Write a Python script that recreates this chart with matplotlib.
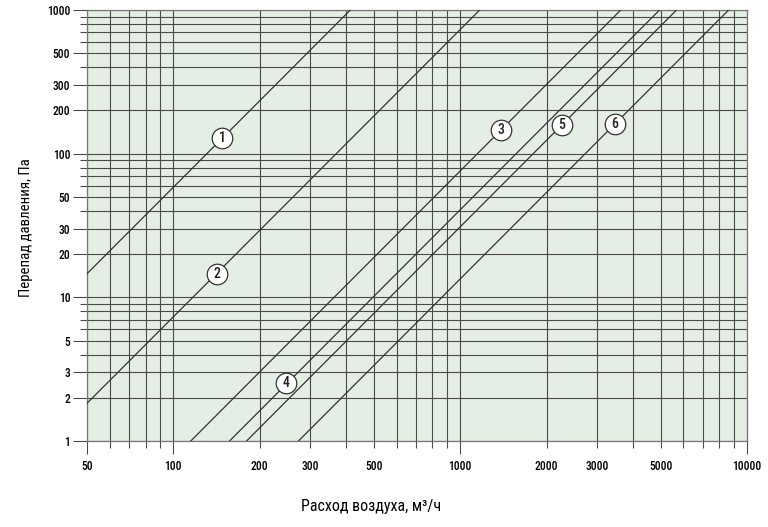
import matplotlib
matplotlib.use("Agg")
import matplotlib.pyplot as plt
from matplotlib.ticker import FixedLocator, FixedFormatter, NullFormatter

plt.rcParams['font.family'] = ['Roboto Condensed', 'DejaVu Sans']
plt.rcParams['font.weight'] = 'medium'

line1_q = [50, 414];   line1_dp = [14.6, 1000]
line2_q = [50, 1170];  line2_dp = [1.83, 1000]
line3_q = [115, 3630]; line3_dp = [1, 1000]
line4_q = [157, 4955]; line4_dp = [1, 1000]
line5_q = [180, 5680]; line5_dp = [1, 1000]
line6_q = [273, 8630]; line6_dp = [1, 1000]

curve_names = ["1", "2", "3", "4", "5", "6"]
label_q = [148, 142, 1384, 248, 2260, 3460]
label_dp = [128, 14.5, 146, 2.53, 158, 161]

x_labeled = [50, 100, 200, 300, 500, 1000, 2000, 3000, 5000, 10000]
x_long = [50, 100, 1000, 10000]
x_grid = [50, 60, 70, 80, 90, 100, 200, 300, 400, 500, 600, 700, 800, 900,
          1000, 2000, 3000, 4000, 5000, 6000, 7000, 8000, 9000, 10000]
y_labeled = [1, 2, 3, 5, 10, 20, 30, 50, 100, 200, 300, 500, 1000]
y_grid = [1, 2, 3, 4, 5, 6, 7, 8, 9, 10, 20, 30, 40, 50, 60, 70, 80, 90,
          100, 200, 300, 400, 500, 600, 700, 800, 900, 1000]

xlabel = "Расход воздуха, м³/ч"
ylabel = "Перепад давления, Па"

grid_c = "#4a4a4a"
line_c = "#333333"
bg = "#e5eee4"

fig = plt.figure(figsize=(7.68, 5.27), dpi=100)
ax = fig.add_axes([87/768, 1-441/527, (747-87)/768, (441-10)/527])
ax.set_facecolor(bg)
ax.set_xscale('log')
ax.set_yscale('log')
ax.set_xlim(50, 10000)
ax.set_ylim(1, 1000)

x_minor = [v for v in x_grid if v not in x_long]
ax.xaxis.set_major_locator(FixedLocator(x_long))
ax.xaxis.set_major_formatter(FixedFormatter([str(v) for v in x_long]))
ax.xaxis.set_minor_locator(FixedLocator(x_minor))
ax.xaxis.set_minor_formatter(FixedFormatter([str(v) if v in x_labeled else "" for v in x_minor]))
ax.tick_params(axis='x', which='major', length=9.5, width=0.8, color=grid_c, pad=4, labelsize=8.3)
ax.tick_params(axis='x', which='minor', length=5, width=0.8, color=grid_c, pad=8.5, labelsize=8.3)

y_minor = [v for v in y_grid if v not in y_labeled]
ax.yaxis.set_major_locator(FixedLocator(y_labeled))
ax.yaxis.set_major_formatter(FixedFormatter([str(v) for v in y_labeled]))
ax.yaxis.set_minor_locator(FixedLocator(y_minor))
ax.yaxis.set_minor_formatter(NullFormatter())
ax.tick_params(axis='y', which='major', length=10, width=0.8, color=grid_c, pad=2, labelsize=8.3)
ax.tick_params(axis='y', which='minor', length=5, width=0.8, color=grid_c)

ax.grid(True, which='both', color=grid_c, linewidth=0.8)
ax.set_axisbelow(True)
for s in ax.spines.values():
    s.set_color("#777777")
    s.set_linewidth(0.9)

for q, dp in [(line1_q, line1_dp), (line2_q, line2_dp), (line3_q, line3_dp),
              (line4_q, line4_dp), (line5_q, line5_dp), (line6_q, line6_dp)]:
    ax.plot(q, dp, color=line_c, linewidth=0.9, zorder=3)

for name, q, dp in zip(curve_names, label_q, label_dp):
    ax.plot([q], [dp], marker='o', ms=14.8, mfc='white', mec='#333333', mew=0.9, zorder=4)
    ax.text(q, dp, name, ha='center', va='center', fontsize=10, color='#222222', zorder=5)

ax.set_xlabel(xlabel, fontsize=11.5)
ax.xaxis.set_label_coords((371-87)/660, (441-506)/431)
ax.xaxis.label.set_va('center')
ax.set_ylabel(ylabel, fontsize=10.6)
ax.yaxis.set_label_coords((26-87)/660, (441-228)/431)
ax.yaxis.label.set_va('center')

fig.savefig("out.png", dpi=100, facecolor='white')
